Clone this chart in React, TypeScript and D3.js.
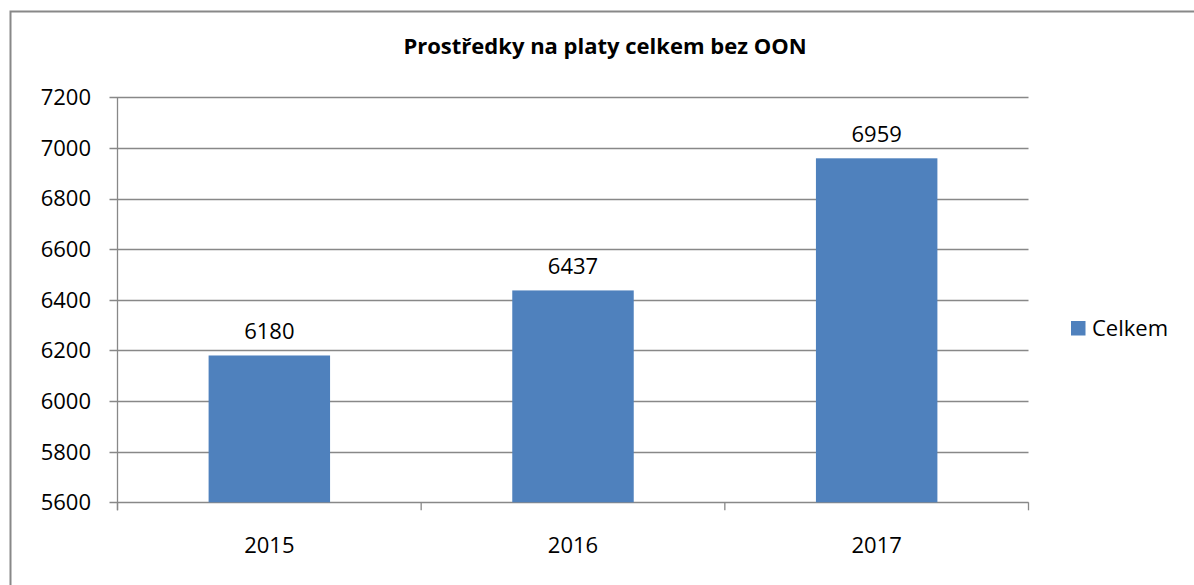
import React, { useEffect, useRef } from 'react';
import * as d3 from 'd3';

const title = 'Prostředky na platy celkem bez OON';
const years = ['2015', '2016', '2017'];
const celkem = [6180, 6437, 6959];
const yTicks = [5600, 5800, 6000, 6200, 6400, 6600, 6800, 7000, 7200];
const seriesName = 'Celkem';

const W = 1194;
const H = 585;
const FONT = '"Open Sans", "Liberation Sans", sans-serif';

const App = () => {
  const svgRef = useRef<SVGSVGElement>(null);

  useEffect(() => {
    const svg = d3.select(svgRef.current);
    svg.selectAll('*').remove(); // Clear previous content

    const left = 117.5, right = 1028.5, top = 97.3, bottom = 502.3;
    const grey = '#888888';

    // chart frame (cut off at right and bottom)
    svg.append('rect')
      .attr('x', 10.5).attr('y', 11.5)
      .attr('width', 1300).attr('height', 700)
      .attr('fill', 'white')
      .attr('stroke', grey).attr('stroke-width', 2);

    svg.append('text')
      .attr('x', 605).attr('y', 54)
      .attr('text-anchor', 'middle')
      .attr('font-family', FONT).attr('font-weight', 'bold').attr('font-size', 22)
      .text(title);

    const x = d3.scaleBand()
      .domain(years)
      .range([left, right])
      .paddingInner(0.6)
      .paddingOuter(0.3);

    const y = d3.scaleLinear()
      .domain([5600, 7200])
      .range([bottom, top]);

    const g = svg.append('g');

    // gridlines + y ticks
    g.selectAll('.grid')
      .data(yTicks)
      .enter()
      .append('line')
      .attr('x1', left - 8).attr('x2', right)
      .attr('y1', d => Math.round(y(d)) + 0.5).attr('y2', d => Math.round(y(d)) + 0.5)
      .attr('stroke', grey).attr('stroke-width', 1.3);

    g.selectAll('.ylab')
      .data(yTicks)
      .enter()
      .append('text')
      .attr('x', 91).attr('y', d => y(d))
      .attr('dy', '0.36em')
      .attr('text-anchor', 'end')
      .attr('font-family', FONT).attr('font-size', 22)
      .text(d => d);

    // bars
    g.selectAll('.bar')
      .data(celkem)
      .enter()
      .append('rect')
      .attr('x', (d, i) => x(years[i]))
      .attr('y', d => y(d))
      .attr('width', x.bandwidth())
      .attr('height', d => bottom - y(d))
      .attr('fill', '#4F81BD');

    g.selectAll('.vlab')
      .data(celkem)
      .enter()
      .append('text')
      .attr('x', (d, i) => x(years[i]) + x.bandwidth() / 2)
      .attr('y', d => y(d) - 16)
      .attr('text-anchor', 'middle')
      .attr('font-family', FONT).attr('font-size', 22)
      .text(d => d);

    // axes lines
    g.append('line')
      .attr('x1', left).attr('x2', left)
      .attr('y1', top).attr('y2', bottom + 8)
      .attr('stroke', grey).attr('stroke-width', 1.3);

    const step = x.step();
    const bounds = d3.range(years.length + 1).map(i => left + i * step);
    g.selectAll('.xtick')
      .data(bounds)
      .enter()
      .append('line')
      .attr('x1', d => d).attr('x2', d => d)
      .attr('y1', bottom).attr('y2', bottom + 8)
      .attr('stroke', grey).attr('stroke-width', 1.3);

    g.selectAll('.xlab')
      .data(years)
      .enter()
      .append('text')
      .attr('x', d => x(d) + x.bandwidth() / 2)
      .attr('y', 553)
      .attr('text-anchor', 'middle')
      .attr('font-family', FONT).attr('font-size', 22)
      .text(d => d);

    // legend
    svg.append('rect')
      .attr('x', 1071).attr('y', 321)
      .attr('width', 14.5).attr('height', 14.5)
      .attr('fill', '#4F81BD');
    svg.append('text')
      .attr('x', 1092).attr('y', 328)
      .attr('dy', '0.36em')
      .attr('font-family', FONT).attr('font-size', 22)
      .text(seriesName);
  }, []);

  return (
    <div style={{ position: 'fixed', left: 0, top: 0, width: W, height: H, background: 'white' }}>
      <svg ref={svgRef} width={W} height={H} style={{ display: 'block' }} />
    </div>
  );
};

export default App;
